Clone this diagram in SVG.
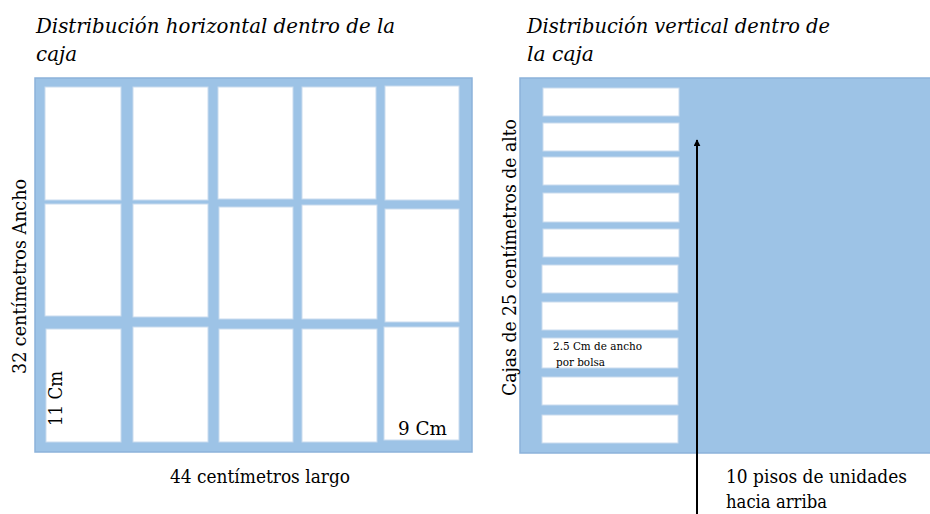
<svg xmlns="http://www.w3.org/2000/svg" width="930" height="514" viewBox="0 0 930 514">
<defs>
<style>
.frame{fill:#9dc3e6;stroke:#8cb2da;stroke-width:1.5}
.cell{fill:#ffffff;stroke:#c9dbee;stroke-width:1}
text{font-family:'DejaVu Serif','Liberation Serif',serif;fill:#000}
.ti{font-style:italic;font-size:20px}
.b{font-size:18px}
.s{font-size:10.5px}
</style>
<marker id="ah" viewBox="0 0 10 10" refX="9" refY="5" markerWidth="7" markerHeight="7" markerUnits="userSpaceOnUse" orient="auto">
<path d="M0,0 L10,5 L0,10 z" fill="#000"/>
</marker>
</defs>
<rect width="930" height="514" fill="#fff"/>

<g id="titles">
<text class="ti" x="36" y="33" textLength="359" lengthAdjust="spacingAndGlyphs">Distribución  horizontal dentro de la</text>
<text class="ti" x="36" y="61" textLength="41" lengthAdjust="spacingAndGlyphs">caja</text>
<text class="ti" x="527" y="33" textLength="303" lengthAdjust="spacingAndGlyphs">Distribución vertical dentro de</text>
<text class="ti" x="527" y="61" textLength="67" lengthAdjust="spacingAndGlyphs">la caja</text>
</g>

<g id="horizontal-box">
<rect class="frame" x="35" y="78" width="437" height="374"/>
<rect class="cell" x="45" y="87" width="76" height="113"/>
<rect class="cell" x="133" y="87" width="75" height="113"/>
<rect class="cell" x="218" y="87" width="75" height="112"/>
<rect class="cell" x="302" y="87" width="74" height="112"/>
<rect class="cell" x="385" y="86" width="74" height="114"/>
<rect class="cell" x="45" y="204" width="76" height="112"/>
<rect class="cell" x="133" y="204" width="75" height="113"/>
<rect class="cell" x="219" y="207" width="74" height="112"/>
<rect class="cell" x="302" y="205" width="75" height="114"/>
<rect class="cell" x="385" y="209" width="74" height="113"/>
<rect class="cell" x="46" y="329" width="75" height="113"/>
<rect class="cell" x="133" y="327" width="75" height="115"/>
<rect class="cell" x="219" y="329" width="74" height="113"/>
<rect class="cell" x="302" y="329" width="75" height="113"/>
<rect class="cell" x="384" y="327" width="75" height="113"/>
<text class="b" transform="translate(62,426) rotate(-90)" textLength="55" lengthAdjust="spacingAndGlyphs">11 Cm</text>
<text class="b" x="398" y="435" textLength="49" lengthAdjust="spacingAndGlyphs">9 Cm</text>
</g>

<g id="labels-left">
<text class="b" transform="translate(26,374) rotate(-90)" textLength="195" lengthAdjust="spacingAndGlyphs">32 centímetros Ancho</text>
<text class="b" x="170" y="483" textLength="180" lengthAdjust="spacingAndGlyphs">44 centímetros largo</text>
</g>

<g id="vertical-box">
<rect class="frame" x="520" y="78" width="412" height="375"/>
<rect class="cell" x="543" y="88" width="136" height="28"/>
<rect class="cell" x="543" y="123" width="136" height="28"/>
<rect class="cell" x="543" y="157" width="136" height="28"/>
<rect class="cell" x="543" y="193" width="136" height="29"/>
<rect class="cell" x="543" y="229" width="136" height="28"/>
<rect class="cell" x="542" y="265" width="136" height="28"/>
<rect class="cell" x="542" y="302" width="136" height="28"/>
<rect class="cell" x="542" y="338" width="136" height="30"/>
<rect class="cell" x="542" y="377" width="136" height="28"/>
<rect class="cell" x="542" y="415" width="136" height="28"/>
<text class="s" x="553" y="350" textLength="89" lengthAdjust="spacingAndGlyphs">2.5 Cm  de ancho</text>
<text class="s" x="556" y="366" textLength="49" lengthAdjust="spacingAndGlyphs">por bolsa</text>
</g>

<g id="labels-right">
<text class="b" transform="translate(516,396) rotate(-90)" textLength="277" lengthAdjust="spacingAndGlyphs">Cajas de 25 centímetros de alto</text>
<text class="b" x="726" y="483" textLength="181" lengthAdjust="spacingAndGlyphs">10 pisos de unidades</text>
<text class="b" x="726" y="508" textLength="101" lengthAdjust="spacingAndGlyphs">hacia arriba</text>
</g>

<g id="connectors">
<line x1="697" y1="514" x2="697" y2="140" stroke="#000" stroke-width="2" marker-end="url(#ah)"/>
</g>
</svg>
